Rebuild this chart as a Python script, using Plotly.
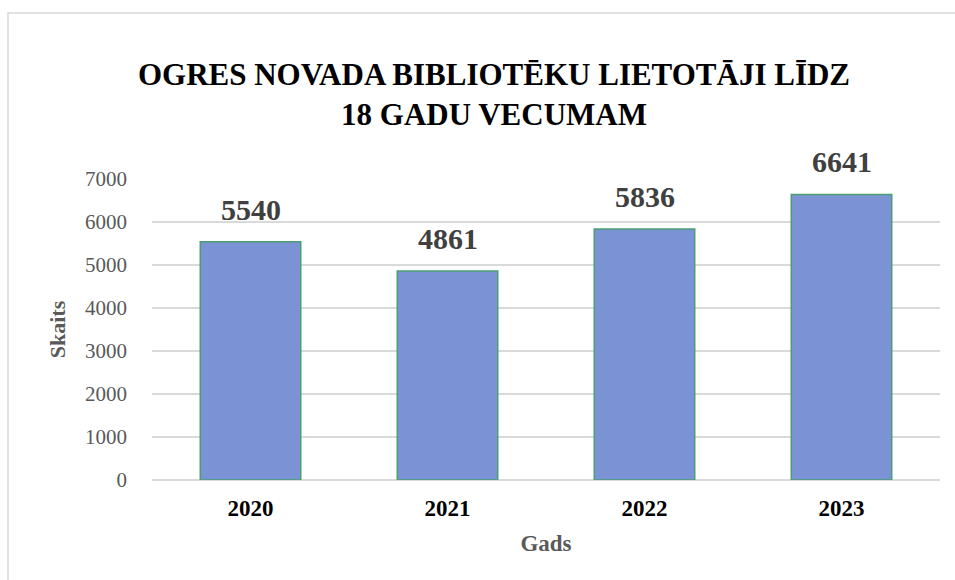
import plotly.graph_objects as go

years = ["2020", "2021", "2022", "2023"]
users = [5540, 4861, 5836, 6641]
y_ticks = [0, 1000, 2000, 3000, 4000, 5000, 6000, 7000]

title_text = "OGRES NOVADA BIBLIOTĒKU LIETOTĀJI LĪDZ<br>18 GADU VECUMAM"

SERIF = "Times New Roman, Liberation Serif, serif"
L, R, T, B = 152, 15, 179, 100
W, H = 955, 580
pw, ph = W - L - R, H - T - B

def px_x(p):
    return (p - L) / pw

def px_y(p):
    return (H - B - p) / ph

fig = go.Figure()
fig.add_trace(go.Bar(
    x=years, y=users,
    width=0.51,
    marker=dict(color="#7b93d4", line=dict(color="#4a9e72", width=1.5)),
    cliponaxis=False,
    hoverinfo="x+y",
))

# category axis: annotation x is the category index
for i, v in enumerate(users):
    fig.add_annotation(x=i, y=v, xref="x", yref="y", text=str(v),
                       showarrow=False, yanchor="bottom", yshift=14,
                       font=dict(family=SERIF, size=30, color="#404040", weight="bold"))

fig.update_layout(
    width=W, height=H,
    margin=dict(l=L, r=R, t=T, b=B),
    paper_bgcolor="white", plot_bgcolor="white",
    font=dict(family=SERIF),
    showlegend=False,
    title=dict(text=title_text, x=px_x(494), xref="paper", xanchor="center",
               y=1 - 85 / H, yanchor="middle",
               font=dict(family=SERIF, size=31, color="#000000", weight="bold")),
    xaxis=dict(
        type="category", categoryorder="array", categoryarray=years,
        range=[-0.5, len(years) - 0.5],
        tickfont=dict(family=SERIF, size=23, color="#000000", weight="bold"),
        showgrid=False, showline=False, ticks="", ticklabelstandoff=12,
        title=dict(text="Gads", font=dict(family=SERIF, size=23, color="#595959", weight="bold"), standoff=14),
    ),
    yaxis=dict(
        range=[0, 7000], tickvals=y_ticks, ticktext=[str(v) for v in y_ticks],
        tickfont=dict(family=SERIF, size=21, color="#595959"),
        showgrid=True, gridcolor="#d9d9d9", gridwidth=1.5,
        zeroline=True, zerolinecolor="#d9d9d9", zerolinewidth=1.5,
        showline=False, ticks="", ticklabelstandoff=24,
        title=dict(text="Skaits", font=dict(family=SERIF, size=22, color="#595959", weight="bold"), standoff=13),
    ),
    shapes=[dict(type="rect", xref="paper", yref="paper",
                 x0=px_x(8), x1=px_x(965), y0=px_y(600), y1=px_y(13),
                 line=dict(color="#d9d9d9", width=1.5), fillcolor="rgba(0,0,0,0)", layer="below")],
)

fig.write_html("out.html", config={"displayModeBar": False},
               post_script="document.body.style.margin='0';")
